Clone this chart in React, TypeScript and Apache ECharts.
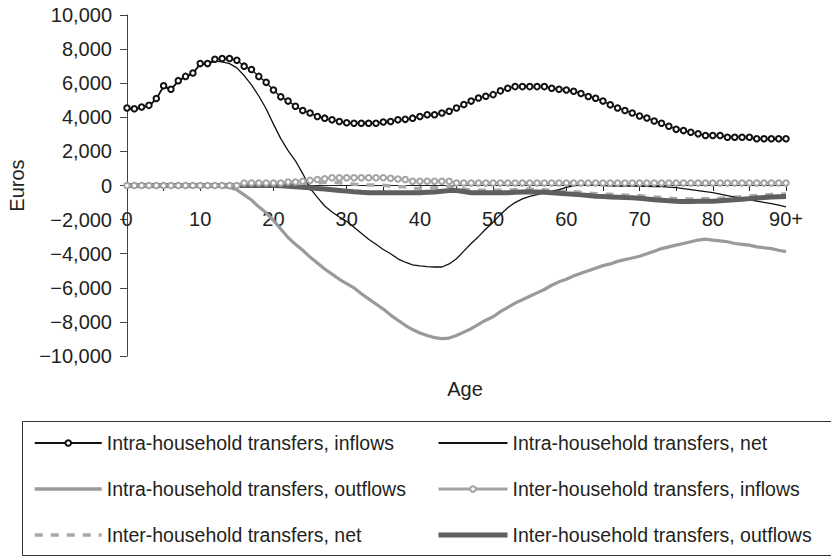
import React, { useEffect, useRef } from "react";
import * as echarts from "echarts";

const ages: string[] = Array.from({ length: 91 }, (_, i) => (i === 90 ? "90+" : String(i)));

const intraInflows = [
  4550, 4500, 4600, 4700, 5100, 5850, 5650, 6150, 6400, 6600,
  7150, 7150, 7400, 7450, 7450, 7350, 7000, 6800, 6400, 6050,
  5600, 5200, 4950, 4650, 4400, 4250, 4050, 3950, 3850, 3750,
  3680, 3650, 3650, 3650, 3650, 3720, 3750, 3850, 3880, 3950,
  4050, 4150, 4150, 4250, 4350, 4550, 4750, 4950, 5130, 5230,
  5330, 5550, 5700, 5800, 5800, 5800, 5800, 5800, 5700, 5650,
  5600, 5530, 5400, 5220, 5120, 4950, 4730, 4550, 4400, 4250,
  4080, 3960, 3780, 3650, 3480, 3300, 3220, 3120, 3030, 2930,
  2930, 2930, 2830, 2830, 2830, 2830, 2740, 2740, 2740, 2740,
  2740,
];

const intraNet = [
  4500, 4450, 4550, 4650, 5050, 5800, 5600, 6100, 6350, 6550,
  7100, 7100, 7300, 7250, 7150, 6900, 6450, 5900, 5250, 4500,
  3600, 2750, 2050, 1450, 700, -150, -700, -1200, -1550, -1850,
  -2100, -2450, -2800, -3150, -3450, -3750, -4000, -4300, -4500, -4650,
  -4720, -4760, -4780, -4780, -4600, -4300, -3850, -3400, -3000, -2550,
  -2150, -1700, -1300, -1000, -780, -640, -540, -430, -330, -240,
  -110, -20, 40, 50, 30, 0, -20, -30, -30, -30,
  -40, -50, -60, -70, -90, -130, -180, -240, -300, -360,
  -420, -500, -590, -680, -760, -840, -910, -990, -1060, -1150,
  -1250,
];

const intraOutflows = [
  0, 0, 0, 0, 0, 0, 0, 0, 0, 0,
  0, 0, 0, -50, -120, -250, -550, -850, -1250, -1600,
  -2050, -2550, -3050, -3450, -3800, -4200, -4550, -4900, -5200, -5500,
  -5750, -6000, -6350, -6650, -6950, -7250, -7600, -7900, -8200, -8450,
  -8650, -8800, -8920, -8980, -8950, -8800, -8600, -8400, -8150, -7900,
  -7700, -7400, -7150, -6900, -6700, -6500, -6300, -6100, -5850, -5650,
  -5500, -5300, -5150, -5000, -4850, -4700, -4600, -4450, -4350, -4250,
  -4150, -4000, -3850, -3700, -3600, -3500, -3400, -3300, -3200, -3150,
  -3200, -3250, -3300, -3400, -3450, -3500, -3600, -3650, -3700, -3800,
  -3880,
];

const interInflows = [
  0, 0, 0, 0, 0, 0, 0, 0, 0, 0,
  0, 0, 0, 0, 0, 0, 150, 150, 150, 150,
  150, 150, 200, 200, 250, 300, 350, 400, 450, 450,
  450, 450, 450, 450, 450, 450, 420, 380, 350, 250,
  250, 250, 250, 250, 250, 150, 150, 150, 150, 150,
  150, 150, 150, 150, 150, 150, 150, 150, 150, 150,
  150, 150, 150, 150, 150, 150, 150, 150, 150, 150,
  150, 150, 150, 150, 150, 150, 150, 150, 150, 150,
  150, 150, 150, 150, 150, 150, 150, 150, 150, 150,
  150,
];

const interNet = [
  0, 0, 0, 0, 0, 0, 0, 0, 0, 0,
  0, 0, 0, 0, 0, 0, 120, 120, 120, 120,
  120, 120, 150, 120, 100, 150, 130, 190, 200, 160,
  120, 80, 50, 30, 20, 20, -30, -80, -80, -180,
  -170, -150, -130, -90, -50, -140, -200, -270, -280, -280,
  -280, -280, -270, -250, -230, -220, -230, -250, -280, -310,
  -340, -360, -400, -440, -480, -500, -520, -540, -560, -570,
  -600, -640, -680, -710, -740, -770, -790, -790, -780, -770,
  -770, -750, -720, -690, -650, -620, -590, -560, -530, -510,
  -500,
];

const interOutflows = [
  0, 0, 0, 0, 0, 0, 0, 0, 0, 0,
  0, 0, 0, 0, 0, 0, 0, 0, 0, 0,
  0, -20, -50, -80, -100, -130, -170, -210, -250, -290,
  -330, -370, -400, -420, -430, -430, -430, -430, -430, -430,
  -420, -400, -380, -340, -300, -290, -350, -420, -430, -430,
  -430, -430, -420, -400, -380, -370, -380, -400, -430, -460,
  -490, -510, -550, -590, -630, -650, -670, -690, -710, -720,
  -750, -790, -830, -860, -890, -920, -940, -940, -930, -920,
  -920, -900, -870, -840, -800, -770, -740, -710, -680, -660,
  -650,
];

const yTicks = { min: -10000, max: 10000, interval: 2000 };

const names = [
  "Intra-household transfers, inflows",
  "Intra-household transfers, net",
  "Intra-household transfers, outflows",
  "Inter-household transfers, inflows",
  "Inter-household transfers, net",
  "Inter-household transfers, outflows",
];

const FONT = "'Liberation Sans', Arial, Helvetica, sans-serif";
const TEXT = "#231f20";

function fmt(v: number): string {
  const s = Math.abs(v).toLocaleString("en-US");
  return v < 0 ? "\u2212" + s : s;
}

export default function App() {
  const ref = useRef<HTMLDivElement>(null);
  useEffect(() => {
    if (!ref.current) return;
    const chart = echarts.init(ref.current, undefined, { renderer: "svg" });
    const legendCommon = {
      orient: "vertical" as const,
      top: 433,
      padding: 0,
      itemWidth: 67,
      itemHeight: 7,
      itemGap: 26,
      textStyle: { fontFamily: FONT, fontSize: 19.5, color: TEXT, lineHeight: 20 },
      selectedMode: false,
    };
    chart.setOption({
      animation: false,
      backgroundColor: "#ffffff",
      textStyle: { fontFamily: FONT },
      grid: {
        left: 127,
        right: 45,
        top: 15,
        bottom: 203,
        containLabel: false,
        outerBoundsMode: "none",
      },
      legend: [
        {
          ...legendCommon,
          left: 33,
          data: [
            { name: names[0] },
            { name: names[2], itemStyle: { opacity: 0 }, lineStyle: { width: 3.5 } },
            { name: names[4], itemStyle: { opacity: 0 }, lineStyle: { width: 3.5 } },
          ],
        },
        {
          ...legendCommon,
          left: 436,
          itemWidth: 69,
          data: [
            { name: names[1], itemStyle: { opacity: 0 } },
            { name: names[3], lineStyle: { width: 3 } },
            { name: names[5], itemStyle: { opacity: 0 }, lineStyle: { width: 5 } },
          ],
        },
      ],
      graphic: [
        {
          type: "rect",
          shape: { x: 22.5, y: 421.5, width: 830, height: 134 },
          style: { fill: "none", stroke: "#333", lineWidth: 1 },
          silent: true,
        },
        {
          type: "text",
          x: 465,
          y: 389,
          style: {
            text: "Age",
            font: `20px ${FONT}`,
            fill: TEXT,
            align: "center",
            verticalAlign: "middle",
          },
        },
      ],
      xAxis: {
        type: "category",
        data: ages,
        boundaryGap: false,
        offset: -171,
        axisLine: { onZero: false, lineStyle: { color: "#222", width: 1 } },
        axisTick: { show: true, interval: 4, length: 6, lineStyle: { color: "#222" } },
        axisLabel: {
          interval: 9,
          margin: 24,
          fontSize: 20,
          color: TEXT,
          fontFamily: FONT,
          showMaxLabel: true,
        },
        splitLine: { show: false },
      },
      yAxis: {
        type: "value",
        min: yTicks.min,
        max: yTicks.max,
        interval: yTicks.interval,
        name: "Euros",
        nameLocation: "middle",
        nameGap: 100,
        nameRotate: 90,
        nameTextStyle: { fontSize: 20, color: TEXT, fontFamily: FONT },
        axisLine: { show: true, lineStyle: { color: "#444", width: 1 } },
        axisTick: { show: true, length: 7, lineStyle: { color: "#444" } },
        axisLabel: {
          formatter: fmt,
          margin: 15,
          fontSize: 20,
          color: TEXT,
          fontFamily: FONT,
        },
        splitLine: { show: false },
      },
      series: [
        {
          name: names[0],
          type: "line",
          data: intraInflows,
          symbol: "emptyCircle",
          symbolSize: 5.5,
          showAllSymbol: true,
          color: "#111",
          lineStyle: { color: "#111", width: 1.3 },
          itemStyle: { color: "#111", borderWidth: 1.3 },
          z: 5,
        },
        {
          name: names[1],
          type: "line",
          data: intraNet,
          symbol: "none",
          color: "#111",
          lineStyle: { color: "#111", width: 1.3 },
          z: 3,
        },
        {
          name: names[2],
          type: "line",
          data: intraOutflows,
          symbol: "none",
          color: "#9a9a9a",
          lineStyle: { color: "#9a9a9a", width: 3.2 },
          z: 2,
        },
        {
          name: names[3],
          type: "line",
          data: interInflows,
          symbol: "emptyCircle",
          symbolSize: 5.5,
          showAllSymbol: true,
          color: "#a3a3a3",
          lineStyle: { color: "#a3a3a3", width: 2 },
          itemStyle: { color: "#a3a3a3", borderWidth: 1.5 },
          z: 4,
        },
        {
          name: names[4],
          type: "line",
          data: interNet,
          symbol: "none",
          color: "#a8a8a8",
          lineStyle: { color: "#a8a8a8", width: 3.5, type: [8, 8] },
          z: 2,
        },
        {
          name: names[5],
          type: "line",
          data: interOutflows,
          symbol: "none",
          color: "#5f5f5f",
          lineStyle: { color: "#5f5f5f", width: 5 },
          z: 3,
        },
      ],
    });
    return () => chart.dispose();
  }, []);
  return <div ref={ref} style={{ width: 831, height: 559, position: "absolute", left: 0, top: 0 }} />;
}
